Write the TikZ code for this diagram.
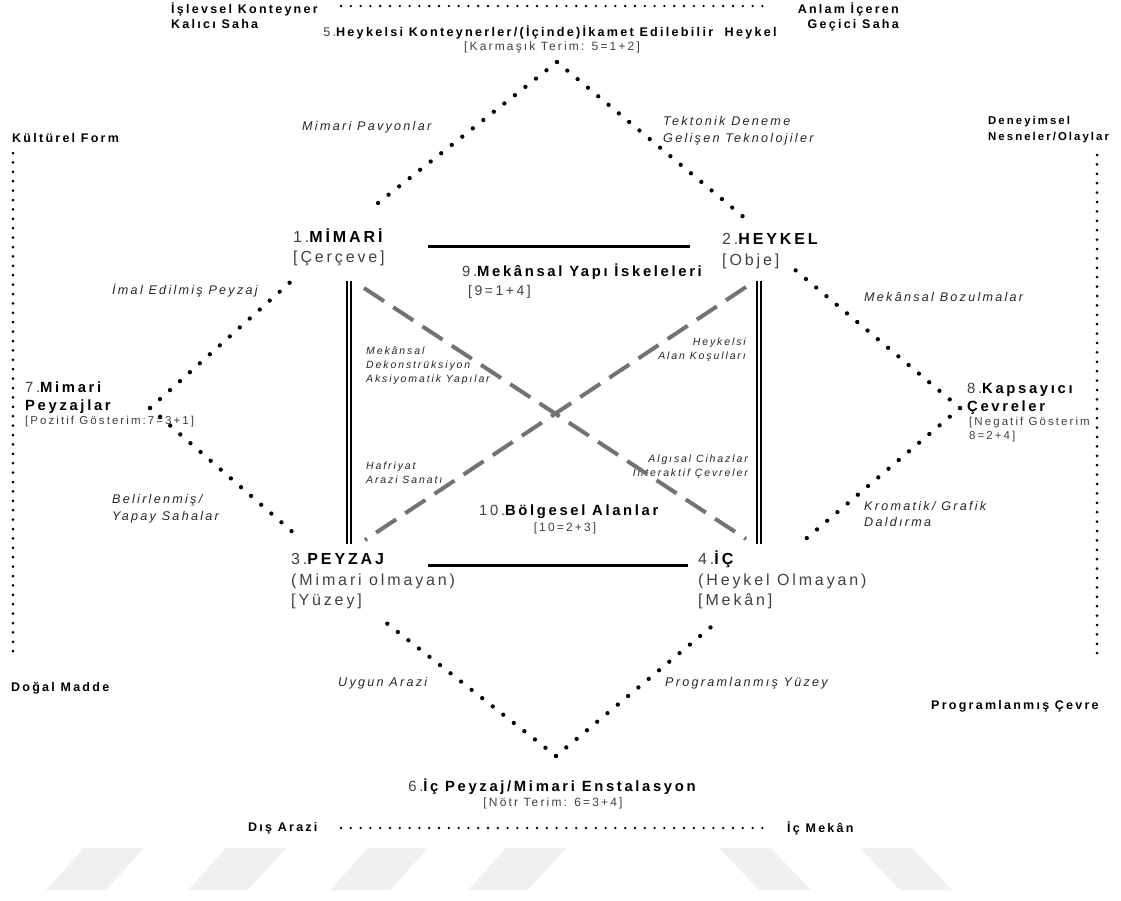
\documentclass[tikz,border=0pt]{standalone}
\usepackage{fontspec}
\setmainfont{Liberation Sans}[LetterSpace=18]

\newcommand{\pre}[1]{{\mdseries\color{black!75}#1}}
\newcommand{\hd}[1]{{\bfseries\color{black}#1}}

\tikzset{
  bigdots/.style={line width=4.3pt, line cap=round, dash pattern=on 0pt off 13.4pt},
  smalldots/.style={line width=2.6pt, line cap=round, dash pattern=on 0pt off 9.8pt},
  sidedots/.style={line width=3pt, line cap=round, dash pattern=on 0pt off 9.4pt},
  barline/.style={line width=3pt},
  rail/.style={double, double distance=2.2pt, line width=1.6pt},
  xdash/.style={draw=black!55, line width=4pt, dash pattern=on 24pt off 11pt},
  wmark/.style={fill=black!6},
  lbl/.style={inner sep=0pt, anchor=west, align=left},
  outerlbl/.style={lbl, font=\fontsize{12.5}{15.5}\selectfont\bfseries},
  sidenote/.style={lbl, font=\fontsize{12.6}{16.5}\selectfont\itshape, text=black!85},
  innote/.style={lbl, font=\fontsize{10.5}{13.8}\selectfont\itshape, text=black!85},
  corner/.style={lbl, font=\fontsize{16}{20.5}\selectfont, text=black!75},
  termlbl/.style={lbl, font=\fontsize{14.8}{18.5}\selectfont\bfseries},
  sumlbl/.style={lbl, font=\fontsize{12}{14}\selectfont, text=black!75}
}

\begin{document}
\begin{tikzpicture}[x=1pt,y=-1pt]
  \useasboundingbox (0,0) rectangle (1121,900);

  \foreach \a in {84,226,368,506}
    \fill[wmark] (\a,848) -- ++(60,0) -- ++(-38,42) -- ++(-60,0) -- cycle;
  \foreach \a in {719,860}
    \fill[wmark] (\a,848) -- ++(52,0) -- ++(40,42) -- ++(-52,0) -- cycle;

  \node[outerlbl] (islevsel) at (171,15.5) {İşlevsel Konteyner\\Kalıcı Saha};
  \node[outerlbl, anchor=east, align=right] (anlam) at (899,17) {Anlam İçeren\\Geçici Saha};
  \node[outerlbl] (kultur) at (12,138) {Kültürel Form};
  \node[outerlbl] (dogal) at (11,688) {Doğal Madde};
  \node[outerlbl, font=\fontsize{11.4}{15.5}\selectfont\bfseries] (deney) at (988,129.5)
    {Deneyimsel\\Nesneler/Olaylar};
  \node[outerlbl] (progcevre) at (931,706) {Programlanmış Çevre};
  \node[outerlbl] (disarazi) at (248,828) {Dış Arazi};
  \node[outerlbl] (icmekan) at (787,828) {İç Mekân};

  \coordinate (t1) at (341,6);
  \coordinate (t2) at (765,6);
  \coordinate (b1) at (341,828);
  \coordinate (b2) at (763,828);
  \coordinate (l1) at (13,153);
  \coordinate (l2) at (13,655);
  \coordinate (r1) at (1097,155);
  \coordinate (r2) at (1097,658);
  \draw[smalldots] (t1) -- (t2);
  \draw[smalldots] (b1) -- (b2);
  \draw[sidedots] (l1) -- (l2);
  \draw[sidedots] (r1) -- (r2);

  \node[termlbl, anchor=center, font=\fontsize{12.6}{15}\selectfont\bfseries] (kont) at (550,32)
    {\pre{5.}Heykelsi Konteynerler/(İçinde)İkamet Edilebilir\ \ Heykel};
  \node[sumlbl, anchor=center] (kontsum) at (552,47) {[Karmaşık Terim: 5=1+2]};
  \node[termlbl, anchor=center] (enst) at (552,787)
    {\pre{6.}İç Peyzaj/Mimari Enstalasyon};
  \node[sumlbl, anchor=center] (enstsum) at (553,803) {[Nötr Terim: 6=3+4]};
  \node[termlbl] (mpeyzaj) at (25,397.5) {\pre{7.}Mimari\\Peyzajlar};
  \node[sumlbl, font=\fontsize{11.5}{14}\selectfont] (mpeyzajsum) at (25,422)
    {[Pozitif Gösterim:7=3+1]};
  \node[termlbl] (kapsa) at (967,399) {\pre{8.}Kapsayıcı\\Çevreler};
  \node[sumlbl, font=\fontsize{11.5}{14}\selectfont] (kapsasum) at (969,430)
    {[Negatif Gösterim\\8=2+4]};
  \node[termlbl] (iskele) at (462,272) {\pre{9.}Mekânsal Yapı İskeleleri};
  \node[sumlbl, font=\fontsize{14}{16}\selectfont] (iskelesum) at (468,292) {[9=1+4]};
  \node[termlbl] (bolge) at (479,512) {\pre{10.}Bölgesel Alanlar};
  \node[sumlbl, anchor=center] (bolgesum) at (565,528) {[10=2+3]};

  \node[corner] (mimari) at (293,247.5) {1.\hd{MİMARİ}\\{}[Çerçeve]};
  \node[corner] (heykel) at (722,251) {2.\hd{HEYKEL}\\{}[Obje]};
  \node[corner] (peyzaj) at (291,581.5) {3.\hd{PEYZAJ}\\(Mimari olmayan)\\{}[Yüzey]};
  \node[corner] (ic) at (698,580) {4.\hd{İÇ}\\(Heykel Olmayan)\\{}[Mekân]};

  \node[sidenote] (pavyon) at (302,127) {Mimari Pavyonlar};
  \node[sidenote] (tekton) at (663,130.5) {Tektonik Deneme\\Gelişen Teknolojiler};
  \node[sidenote] (imal) at (112,291) {İmal Edilmiş Peyzaj};
  \node[sidenote] (bozul) at (864,297) {Mekânsal Bozulmalar};
  \node[sidenote] (belir) at (112,508.5) {Belirlenmiş/\\Yapay Sahalar};
  \node[sidenote] (kroma) at (864,514) {Kromatik/ Grafik\\Daldırma};
  \node[sidenote] (uygun) at (338,683) {Uygun Arazi};
  \node[sidenote] (progyuz) at (665,683) {Programlanmış Yüzey};

  \node[innote] (dekon) at (366,366) {Mekânsal\\Dekonstrüksiyon\\Aksiyomatik Yapılar};
  \node[innote, anchor=east, align=right] (alan) at (746,349.5) {Heykelsi\\Alan Koşulları};
  \node[innote] (hafri) at (366,472.5) {Hafriyat\\Arazi Sanatı};
  \node[innote, anchor=east, align=right] (algi) at (748,466.5)
    {Algısal Cihazlar\\İnteraktif Çevreler};

  \coordinate (v5) at (557,62);
  \coordinate (v7) at (150,408);
  \coordinate (v6) at (556,756);
  \coordinate (v8) at (960,408);
  \coordinate (m1) at (378,203);
  \coordinate (m2) at (296,277);
  \coordinate (h1) at (752,224);
  \coordinate (h2) at (794,269);
  \coordinate (p1) at (296,535);
  \coordinate (p2) at (380,618);
  \coordinate (i1) at (717,622);
  \coordinate (i2) at (801,543);
  \draw[bigdots] (v5) -- (m1);
  \draw[bigdots] (v5) -- (h1);
  \draw[bigdots] (v7) -- (m2);
  \draw[bigdots] (v7) -- (p1);
  \draw[bigdots] (v6) -- (p2);
  \draw[bigdots] (v6) -- (i1);
  \draw[bigdots] (v8) -- (h2);
  \draw[bigdots] (v8) -- (i2);

  \coordinate (ta) at (428,246);
  \coordinate (tb) at (690,246);
  \coordinate (ba) at (428,565);
  \coordinate (bb) at (688,565);
  \coordinate (la) at (349,281);
  \coordinate (lb) at (349,544);
  \coordinate (ra) at (759,281);
  \coordinate (rb) at (759,544);
  \draw[barline] (ta) -- (tb);
  \draw[barline] (ba) -- (bb);
  \draw[rail] (la) -- (lb);
  \draw[rail] (ra) -- (rb);

  \coordinate (xa) at (364,288);
  \coordinate (xb) at (746,539);
  \coordinate (xc) at (746,287);
  \coordinate (xd) at (365,540);
  \draw[xdash] (xa) -- (xb);
  \draw[xdash] (xc) -- (xd);
\end{tikzpicture}
\end{document}
